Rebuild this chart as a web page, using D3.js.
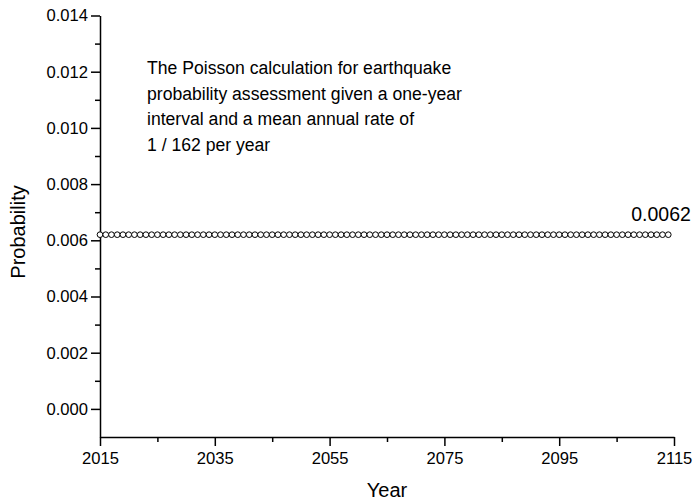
<!DOCTYPE html>
<html>
<head>
<meta charset="utf-8">
<script src="https://cdn.jsdelivr.net/npm/d3@7"></script>
<style>
  html, body { margin: 0; padding: 0; background: #fff; }
  svg { display: block; }
  text { font-family: Arial, "Liberation Sans", Helvetica, sans-serif; fill: #000; }
</style>
</head>
<body>
<svg id="chart" width="695" height="501"></svg>
<script>
// Poisson probability of at least one event in a one-year window, rate 1/162 per year
const years = d3.range(2015, 2115);            // one point per year
const probability = years.map(() => 0.0062);    // 1 - exp(-1/162), rounded
const valueLabel = "0.0062";
const xTickValues = [2015, 2035, 2055, 2075, 2095, 2115];
const xMinorTicks = [2025, 2045, 2065, 2085, 2105];
const yTickValues = [0.000, 0.002, 0.004, 0.006, 0.008, 0.010, 0.012, 0.014];
const yMinorTicks = [0.001, 0.003, 0.005, 0.007, 0.009, 0.011, 0.013];
const noteLines = [
  "The Poisson calculation for earthquake",
  "probability assessment given a one-year",
  "interval and a mean annual rate of",
  "1 / 162 per year"
];

const svg = d3.select("#chart");
const plotLeft = 100, plotRight = 674, plotTop = 15.5, plotBottom = 437;

const x = d3.scaleLinear().domain([2015, 2115]).range([plotLeft, plotRight]);
const y = d3.scaleLinear().domain([-0.001, 0.014]).range([plotBottom, plotTop]);

// minor ticks
svg.append("g")
  .attr("transform", `translate(0,${plotBottom})`)
  .call(d3.axisBottom(x).tickValues(xMinorTicks).tickSize(5).tickFormat(""))
  .call(g => g.select(".domain").remove());
svg.append("g")
  .attr("transform", `translate(${plotLeft},0)`)
  .call(d3.axisLeft(y).tickValues(yMinorTicks).tickSize(5).tickFormat(""))
  .call(g => g.select(".domain").remove());

// major axes
const xAxis = svg.append("g")
  .attr("transform", `translate(0,${plotBottom})`)
  .call(d3.axisBottom(x).tickValues(xTickValues).tickSize(9).tickSizeOuter(0).tickPadding(6).tickFormat(d3.format("d")));
const yAxis = svg.append("g")
  .attr("transform", `translate(${plotLeft},0)`)
  .call(d3.axisLeft(y).tickValues(yTickValues).tickSize(9).tickSizeOuter(0).tickPadding(3).tickFormat(d3.format(".3f")));

[xAxis, yAxis].forEach(g => {
  g.selectAll("path").attr("stroke", "#000").attr("stroke-width", 1.5);
  g.selectAll("text").style("font-size", "16.6px").attr("fill", "#000");
});
svg.selectAll("g line").attr("stroke", "#000").attr("stroke-width", 1.5);

// data points
svg.append("g")
  .selectAll("circle")
  .data(years.map((yr, i) => ({ yr, p: probability[i] })))
  .join("circle")
  .attr("cx", d => x(d.yr))
  .attr("cy", d => y(d.p))
  .attr("r", 2.85)
  .attr("fill", "#fff")
  .attr("stroke", "#000")
  .attr("stroke-width", 1);

// value label at the end of the series
svg.append("text")
  .attr("x", x(years[years.length - 1]) - 37)
  .attr("y", y(probability[probability.length - 1]) - 14)
  .style("font-size", "19.5px")
  .text(valueLabel);

// annotation
const note = svg.append("text")
  .attr("x", 147)
  .attr("y", 74)
  .style("font-size", "17.6px");
note.selectAll("tspan")
  .data(noteLines)
  .join("tspan")
  .attr("x", 147)
  .attr("dy", (d, i) => i === 0 ? 0 : 25.5)
  .text(d => d);

// axis titles
svg.append("text")
  .attr("x", (plotLeft + plotRight) / 2)
  .attr("y", 497)
  .attr("text-anchor", "middle")
  .style("font-size", "20px")
  .text("Year");
svg.append("text")
  .attr("transform", `translate(25,232) rotate(-90)`)
  .attr("text-anchor", "middle")
  .style("font-size", "20px")
  .text("Probability");
</script>
</body>
</html>
